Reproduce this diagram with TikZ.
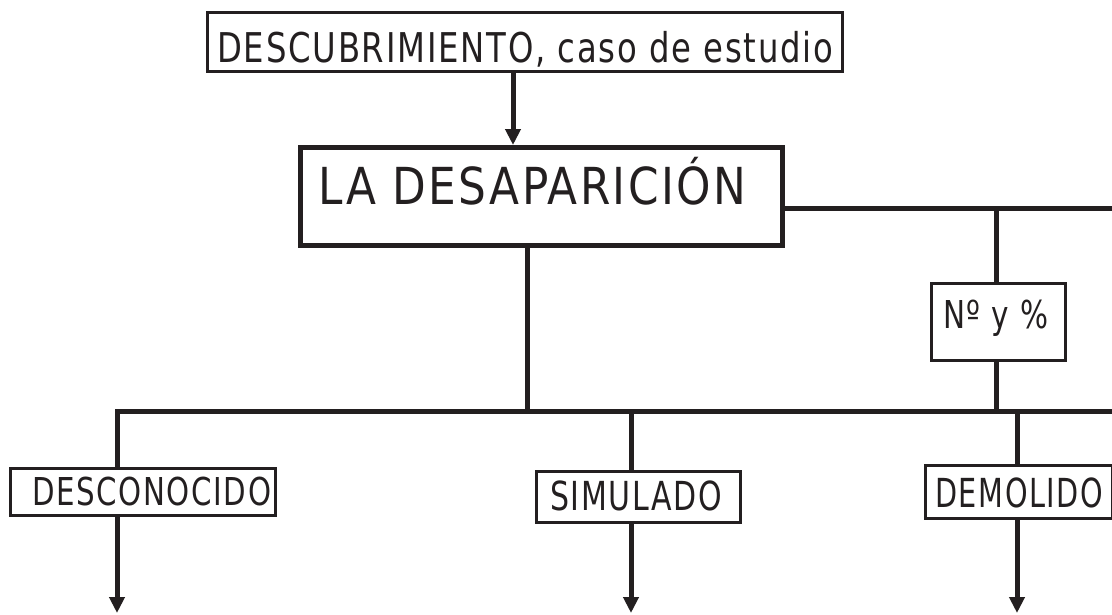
\documentclass[tikz,border=0pt]{standalone}
\usepackage{fontspec}
\usepackage{graphicx}
\newfontfamily\dn[LetterSpace=5]{DejaVu Sans Condensed}
\usetikzlibrary{arrows.meta}
\definecolor{ink}{HTML}{231F20}
\begin{document}
\begin{tikzpicture}[x=1pt,y=-1pt,
  thinbox/.style={draw=ink,line width=2.6pt,inner sep=0pt},
  thickbox/.style={draw=ink,line width=5pt,inner sep=0pt},
  conn/.style={draw=ink,line width=5pt,line join=miter},
  arr/.style={conn,-{Triangle[width=15pt,length=16pt]}},
  lbl/.style={anchor=base west,inner sep=0pt,text=ink}]
\useasboundingbox (0,0) rectangle (1112,614);

% boxes
\node[thinbox,minimum width=635pt,minimum height=59pt] (top) at (525,42) {};
\node[thickbox,minimum width=482pt,minimum height=98pt] (main) at (541.5,196.5) {};
\node[thinbox,minimum width=134pt,minimum height=77pt] (num) at (998.5,322) {};
\node[thinbox,minimum width=265pt,minimum height=47pt] (desc) at (143,492) {};
\node[thinbox,minimum width=204pt,minimum height=51pt] (sim) at (638.5,497) {};
\node[thinbox,minimum width=187pt,minimum height=53pt] (dem) at (1019,492) {};

% texts
\node[lbl] (ttop) at (217,62) {\fontsize{41}{41}\dn\resizebox{616pt}{\height}{DESCUBRIMIENTO, caso de estudio}};
\node[lbl] (tmain) at (318,204) {\fontsize{51}{51}\dn\resizebox{428pt}{\height}{LA DESAPARICIÓN}};
\node[lbl] (tnum) at (943,328) {\fontsize{38.4}{38.4}\dn\resizebox{105pt}{\height}{Nº y \%}};
\node[lbl] (tdesc) at (32,505) {\fontsize{38.4}{38.4}\dn\resizebox{239pt}{\height}{DESCONOCIDO}};
\node[lbl] (tsim) at (550,510) {\fontsize{40}{40}\dn\resizebox{172pt}{\height}{SIMULADO}};
\node[lbl] (tdem) at (935,507) {\fontsize{40}{40}\dn\resizebox{168pt}{\height}{DEMOLIDO}};

% coordinates
\coordinate (ax) at (513,0);
\coordinate (rE) at (1112,208);
\coordinate (nx) at (996,208);
\coordinate (nj) at (996,411);
\coordinate (mj) at (527,411);
\coordinate (hl) at (117,411);
\coordinate (hr) at (1112,411);
\coordinate (sj) at (631,411);
\coordinate (dj) at (1017,411);
\coordinate (e1) at (117,613);
\coordinate (e2) at (631,613);
\coordinate (e3) at (1017,613);

% connectors
\draw[arr] (top.south -| ax) -- (main.north -| ax);
\draw[conn] (main.east |- rE) -- (rE);
\draw[conn] (nx) -- (nx |- num.north);
\draw[conn] (nx |- num.south) -- (nj);
\draw[conn] (main.south -| mj) -- (mj);
\draw[conn] (desc.north -| hl) -- (hl) -- (hr);
\draw[conn] (sj) -- (sim.north -| sj);
\draw[conn] (dj) -- (dem.north -| dj);
\draw[arr] (desc.south -| e1) -- (e1);
\draw[arr] (sim.south -| e2) -- (e2);
\draw[arr] (dem.south -| e3) -- (e3);
\end{tikzpicture}
\end{document}
